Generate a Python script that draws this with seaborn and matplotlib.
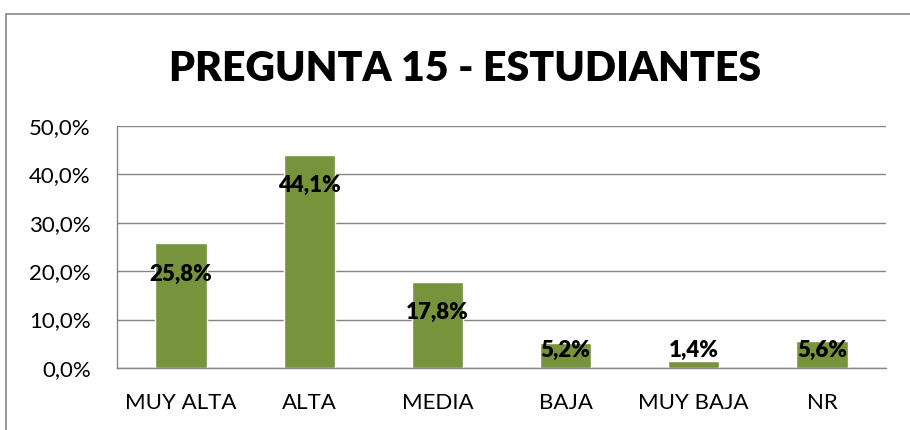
import numpy as np
import pandas as pd
import seaborn as sns
import matplotlib.pyplot as plt
from matplotlib.patches import Rectangle

# Data
categorias = ['MUY ALTA', 'ALTA', 'MEDIA', 'BAJA', 'MUY BAJA', 'NR']
porcentajes = [25.8, 44.1, 17.8, 5.2, 1.4, 5.6]
yticks = [0, 10, 20, 30, 40, 50]

data = pd.DataFrame({'categoria': categorias, 'pct': porcentajes})

sns.set_style('white')
plt.rcParams['font.family'] = ['Lato', 'DejaVu Sans']
plt.rcParams['text.color'] = 'black'
plt.rcParams['xtick.labelcolor'] = 'black'
plt.rcParams['ytick.labelcolor'] = 'black'

fig = plt.figure(figsize=(9.1, 4.3), dpi=100)
ax = fig.add_axes([0.1286, 0.1442, 0.845, 0.5628])

sns.barplot(data=data, x='categoria', y='pct', color='#77933C', width=0.4,
            saturation=1, ax=ax)

# Axis styling
ax.set_ylim(0, 50)
ax.set_xlim(-0.5, len(categorias) - 0.5)
ax.set_yticks(yticks)
ax.set_yticklabels([f'{v:.1f}%'.replace('.', ',') for v in yticks], fontsize=16)
ax.set_xticks(np.arange(len(categorias)))
ax.set_xticklabels(categorias, fontsize=16)
ax.set_xticks(np.arange(-0.5, len(categorias), 1), minor=True)
ax.tick_params(axis='x', which='major', length=0, pad=18)
ax.tick_params(axis='x', which='minor', length=5, color='#868686', width=1)
ax.tick_params(axis='y', length=5, color='#868686', width=1, pad=14)
ax.set_xlabel('')
ax.set_ylabel('')
ax.yaxis.grid(True, color='#868686', linewidth=1)
ax.set_axisbelow(True)
for side in ['top', 'right']:
    ax.spines[side].set_visible(False)
for side in ['left', 'bottom']:
    ax.spines[side].set_color('#868686')
    ax.spines[side].set_linewidth(1)

# Value labels near the top of each bar
for i, v in enumerate(porcentajes):
    ax.text(i, max(v - 6.4, 3.7), f'{v:.1f}%'.replace('.', ','),
            ha='center', va='center', fontsize=16, fontweight='heavy', color='black')

fig.text(0.511, 0.8395, 'PREGUNTA 15 - ESTUDIANTES', ha='center', va='center',
         fontsize=29.5, fontweight='heavy', color='black')

# Chart border
fig.patches.append(Rectangle((5.5 / 910, -0.1), 1.2, 1.1 - 14 / 430,
                             transform=fig.transFigure, fill=False,
                             edgecolor='#868686', linewidth=1.2))

plt.savefig('out.png', dpi=100)
plt.close()
